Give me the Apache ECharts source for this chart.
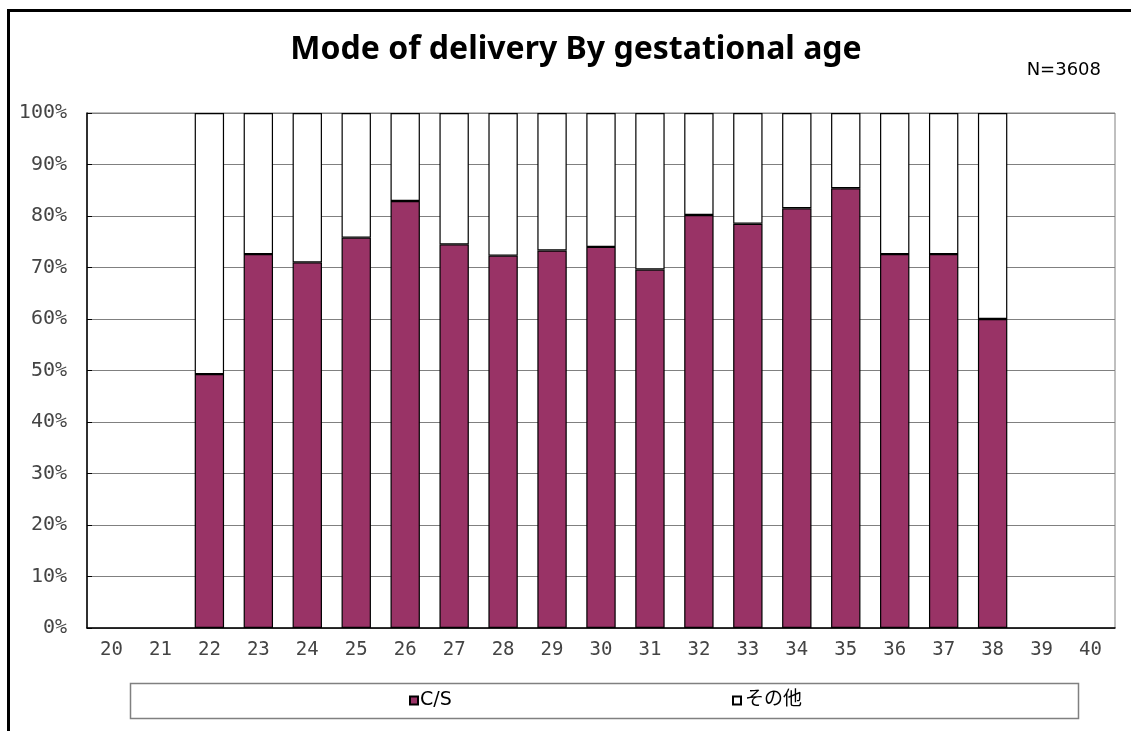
<!DOCTYPE html>
<html>
<head>
<meta charset="utf-8">
<title>Mode of delivery By gestational age</title>
<script src="https://cdn.jsdelivr.net/npm/echarts@6/dist/echarts.min.js"></script>
<style>
  html, body { margin: 0; padding: 0; background: #fff; }
  #chart { width: 1131px; height: 731px; }
</style>
</head>
<body>
<div id="chart"></div>
<script>
// 週数（カテゴリ）
var weeks = ['20', '21', '22', '23', '24', '25', '26', '27', '28', '29', '30',
             '31', '32', '33', '34', '35', '36', '37', '38', '39', '40'];
// 帝王切開の割合 (%)
var csValues = [null, null, 49.3, 72.6, 71.0, 75.8, 82.9, 74.5, 72.3, 73.3, 74.0,
                69.6, 80.2, 78.5, 81.5, 85.4, 72.6, 72.6, 60.0, null, null];
// その他の割合 (%)
var otherValues = [null, null, 50.7, 27.4, 29.0, 24.2, 17.1, 25.5, 27.7, 26.7, 26.0,
                   30.4, 19.8, 21.5, 18.5, 14.6, 27.4, 27.4, 40.0, null, null];
var seriesNames = ['C/S', 'その他'];
var titleText = 'Mode of delivery By gestational age';
var nText = 'N=3608';

var monoFont = '"DejaVu Sans Mono", "Liberation Mono", monospace';
var sansFont = '"DejaVu Sans", "Noto Sans CJK JP", sans-serif';

var myChart = echarts.init(document.getElementById('chart'));
var option = {
    animation: false,
    backgroundColor: '#fff',
    grid: {
        left: 87, right: 16, top: 113, bottom: 103,
        show: true,
        borderColor: '#808080',
        borderWidth: 1
    },
    legend: [{
        data: [seriesNames[0]],
        left: 409, top: 691,
        padding: 0,
        icon: 'rect',
        itemWidth: 8, itemHeight: 8, itemGap: 0,
        textStyle: { fontFamily: sansFont, fontSize: 19, color: '#000', padding: [0, 0, 0, -3] }
    }, {
        data: [seriesNames[1]],
        left: 732, top: 691,
        padding: 0,
        icon: 'rect',
        itemWidth: 8, itemHeight: 8, itemGap: 0,
        textStyle: { fontFamily: sansFont, fontSize: 19, color: '#000', padding: [0, 0, 0, -1] }
    }],
    xAxis: {
        type: 'category',
        data: weeks,
        axisLine: { lineStyle: { color: '#000', width: 1.5 } },
        axisTick: { inside: true, length: 6, lineStyle: { color: '#000' } },
        axisLabel: { fontFamily: monoFont, fontSize: 19, color: '#444', margin: 13 },
        splitLine: { show: false }
    },
    yAxis: {
        type: 'value',
        min: 0, max: 100, interval: 10,
        axisLine: { show: true, lineStyle: { color: '#000', width: 1.5 } },
        axisTick: { show: true, inside: true, length: 5, lineStyle: { color: '#000' } },
        axisLabel: { fontFamily: monoFont, fontSize: 20, color: '#444', margin: 20, formatter: '{value}%' },
        splitLine: { lineStyle: { color: '#808080', width: 1 } }
    },
    series: [{
        name: seriesNames[0],
        type: 'bar',
        stack: 'total',
        barWidth: '60%',
        data: csValues,
        itemStyle: { color: '#993366', borderColor: '#000', borderWidth: 1.2 }
    }, {
        name: seriesNames[1],
        type: 'bar',
        stack: 'total',
        barWidth: '60%',
        data: otherValues,
        itemStyle: { color: '#fff', borderColor: '#000', borderWidth: 1.2 }
    }],
    graphic: [
        // 外枠
        { type: 'rect', shape: { x: 7, y: 9, width: 3, height: 722 }, style: { fill: '#000' }, silent: true },
        { type: 'rect', shape: { x: 7, y: 9, width: 1124, height: 3 }, style: { fill: '#000' }, silent: true },
        // 凡例の枠
        { type: 'rect', z: -1, shape: { x: 130.5, y: 683.5, width: 948, height: 35 },
          style: { fill: '#fff', stroke: '#808080', lineWidth: 1.5 }, silent: true },
        // タイトル
        { type: 'text', x: 576, y: 50,
          style: { text: titleText, font: 'bold 32px "Noto Sans", "DejaVu Sans", sans-serif',
                   fill: '#000', textAlign: 'center', textVerticalAlign: 'middle' } },
        { type: 'text', x: 1101, y: 70,
          style: { text: nText, font: '18px ' + sansFont, fill: '#000',
                   textAlign: 'right', textVerticalAlign: 'middle' } }
    ]
};
myChart.setOption(option);
</script>
</body>
</html>
